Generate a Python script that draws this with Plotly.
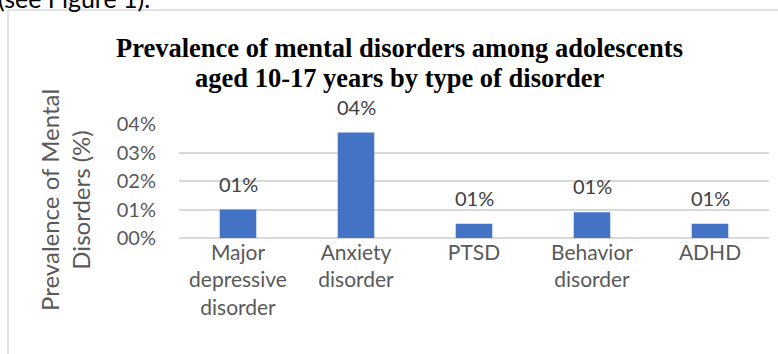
import plotly.graph_objects as go

categories = ["Major<br>depressive<br>disorder", "Anxiety<br>disorder", "PTSD",
              "Behavior<br>disorder", "ADHD"]
prevalence = [0.010, 0.037, 0.005, 0.009, 0.005]
tick_vals = [0.00, 0.01, 0.02, 0.03, 0.04]
tick_text = ["00%", "01%", "02%", "03%", "04%"]
title_lines = ["Prevalence of mental disorders among adolescents",
               "aged 10-17 years by type of disorder"]

W, H = 778, 354
L, R, T, B = 179, 9, 124, 116
pw, ph = W - L - R, H - T - B


def px_x(x):
    return (x - L) / pw


def px_y(y):
    return (H - B - y) / ph


def pct_label(v):
    return f"{int(v * 100 + 0.5):02d}%"


fig = go.Figure()
fig.add_trace(go.Bar(
    x=categories, y=prevalence, marker=dict(color="#4472C4", line=dict(width=0)),
    width=0.31, hoverinfo="skip",
))

annotations = []
for c, v in zip(categories, prevalence):
    annotations.append(dict(
        x=c, y=v, xref="x", yref="y", text=pct_label(v), showarrow=False,
        yanchor="bottom", yshift=12, font=dict(family="Lato", size=20, color="#404040"),
    ))

for line, yc in zip(title_lines, [48, 78]):
    annotations.append(dict(
        x=px_x(399.5), y=px_y(yc), xref="paper", yref="paper",
        text="<b>" + line + "</b>", showarrow=False,
        xanchor="center", yanchor="middle",
        font=dict(family="Liberation Serif", size=26.5, color="#000000"),
    ))

annotations.append(dict(
    x=px_x(65), y=px_y(200), xref="paper", yref="paper",
    text="Prevalence of Mental<br>Disorders (%)", textangle=-90, showarrow=False,
    xanchor="center", yanchor="middle",
    font=dict(family="Lato", size=24, color="#595959"),
))
annotations.append(dict(
    x=px_x(-4), y=px_y(-2), xref="paper", yref="paper",
    text="(see Figure 1).", showarrow=False, xanchor="left", yanchor="middle",
    font=dict(family="Lato", size=25, color="#000000"),
))

shapes = [
    dict(type="line", xref="paper", yref="paper", x0=px_x(8), x1=px_x(800),
         y0=px_y(10), y1=px_y(10), line=dict(color="#d9d9d9", width=1.5)),
    dict(type="line", xref="paper", yref="paper", x0=px_x(8), x1=px_x(8),
         y0=px_y(10), y1=px_y(380), line=dict(color="#d9d9d9", width=1.5)),
]

fig.update_layout(
    width=W, height=H, margin=dict(l=L, r=R, t=T, b=B, pad=0),
    paper_bgcolor="white", plot_bgcolor="white", showlegend=False,
    annotations=annotations, shapes=shapes,
    bargap=0.69,
)
fig.update_xaxes(
    showgrid=False, showline=False, ticks="",
    tickfont=dict(family="Lato", size=21, color="#595959"),
)
fig.update_yaxes(
    range=[0, 0.04], tickvals=tick_vals, ticktext=tick_text,
    showgrid=True, gridcolor="#d9d9d9", gridwidth=1.5,
    zeroline=True, zerolinecolor="#d9d9d9", zerolinewidth=1.5,
    showline=False, ticks="", ticklabelstandoff=22,
    tickfont=dict(family="Lato", size=20, color="#595959"),
)

fig.write_html("out.html")
